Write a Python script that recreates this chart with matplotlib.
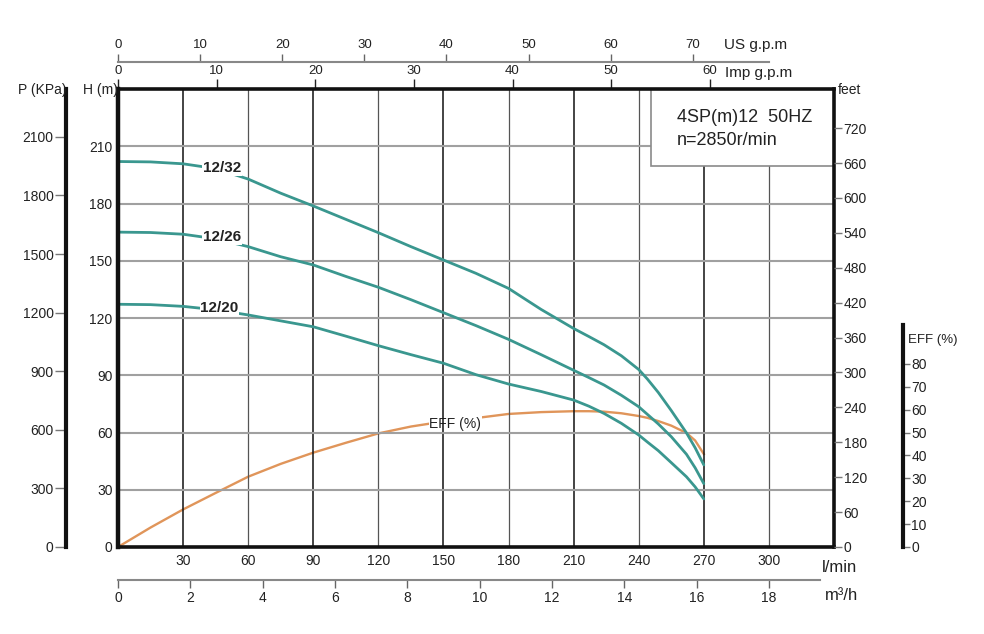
import matplotlib
matplotlib.use("Agg")
import matplotlib.pyplot as plt
from matplotlib.patches import Rectangle

plt.rcParams['font.family'] = ['Liberation Sans', 'DejaVu Sans']

# ---------------- data ----------------
flow = [0, 15, 30, 45, 60, 75, 90, 105, 120, 135, 150, 165, 180, 195, 210,
        217, 224, 232, 240, 244, 249, 255, 262, 266, 270]  # l/min
head_12_32 = [202, 201.8, 200.8, 198.3, 192.8, 185.4, 178.7, 171.7, 164.7, 157.4, 150.4, 143.4, 135.5,
              124.5, 114.5, 110.3, 106.0, 100.2, 93.0, 88.0, 81.0, 71.5, 59.8, 52.0, 43.0]
head_12_26 = [165, 164.8, 163.9, 161.5, 157.4, 152.1, 147.8, 141.8, 136.1, 129.6, 122.8, 116.0, 108.8,
              100.8, 92.6, 88.8, 84.9, 79.5, 73.5, 69.5, 64.5, 57.8, 48.6, 41.5, 33.2]
head_12_20 = [127.2, 127.0, 126.1, 124.3, 121.6, 118.5, 115.4, 110.5, 105.5, 100.8, 96.3, 90.3, 85.4,
              81.5, 77.0, 73.8, 70.0, 64.8, 58.7, 55.0, 50.5, 44.2, 36.8, 31.5, 25.2]
eff = [0, 8.5, 16.4, 23.6, 30.7, 36.3, 41.2, 45.5, 49.6, 52.6, 54.8, 56.3, 58.1, 58.9, 59.3,
       59.3, 59.1, 58.4, 57.2, 56.4, 55.0, 53.0, 49.8, 46.5, 40.6]  # %

curve_names = ['12/32', '12/26', '12/20']
label_pos = [(39, 198.5), (39, 162.5), (38, 125.3)]

q_ticks = list(range(30, 301, 30))
h_ticks = list(range(0, 211, 30))
p_ticks = list(range(0, 2101, 300))
ft_ticks = list(range(0, 721, 60))
eff_ticks = list(range(0, 81, 10))
us_ticks = list(range(0, 71, 10))
imp_ticks = list(range(0, 61, 10))
m3_ticks = list(range(0, 19, 2))

title_lines = "4SP(m)12  50HZ\nn=2850r/min"

TEAL = '#3a978f'
ORANGE = '#e0955a'
GRAY = '#a0a0a0'

# ---------------- figure ----------------
fig = plt.figure(figsize=(9.84, 6.34), dpi=100)
ax = fig.add_axes([118/984, 87/634, 716/984, 458/634])
ax.set_xlim(0, 330)
ax.set_ylim(0, 240)

for k, sp in ax.spines.items():
    sp.set_linewidth(2.6)
    sp.set_color('#111111')
    sp.set_zorder(10)
ax.spines['left'].set_linewidth(3.2)

ax.set_xticks(q_ticks)
ax.set_yticks(h_ticks)
ax.tick_params(axis='x', length=0, pad=5, labelsize=10, colors='#222222')
ax.tick_params(axis='y', length=0, pad=4, labelsize=10, colors='#222222')

# grid
for i, q in enumerate(q_ticks):
    ax.axvline(q, color='#111111' if i % 2 == 0 else '#555555',
               lw=1.1 if i % 2 == 0 else 0.9, zorder=2.6)
for h in h_ticks[1:]:
    ax.axhline(h, color=GRAY, lw=1.5, zorder=2.6)

# curves
for hd, name, (lx, ly) in zip([head_12_32, head_12_26, head_12_20], curve_names, label_pos):
    ax.plot(flow, hd, color=TEAL, lw=2.0, zorder=3, solid_capstyle='round', solid_joinstyle='round')
    ax.text(lx, ly, name, fontsize=11, fontweight='bold', color='#222222',
            ha='left', va='center', zorder=4,
            bbox=dict(facecolor='white', edgecolor='none', pad=0.6))

eff_h = [e * 240 / 200 for e in eff]
ax.plot(flow, eff_h, color=ORANGE, lw=1.7, zorder=2.4, solid_joinstyle='round')
ax.text(143.5, 64.5, 'EFF (%)', fontsize=10, color='#222222', ha='left', va='center',
        zorder=2.5, bbox=dict(facecolor='white', edgecolor='none', pad=0.5))

# info box
ax.add_patch(Rectangle(((651-118)/716, (547-166)/458), 1 - (651-118)/716, 1 - (547-166)/458,
                       transform=ax.transAxes, facecolor='white', edgecolor='#8a8a8a',
                       lw=1.2, zorder=5))
ax.text((677-118)/716, (547-109)/458, title_lines, transform=ax.transAxes, fontsize=13,
        ha='left', va='top', linespacing=1.45, color='#222222', zorder=6)

# P (kPa) axis
axp = ax.twinx()
axp.set_ylim(0, 2345)
for k in ['right', 'top', 'bottom']:
    axp.spines[k].set_visible(False)
axp.spines['left'].set_visible(True)
axp.spines['left'].set_position(('axes', (66-118)/716))
axp.spines['left'].set_linewidth(3)
axp.spines['left'].set_color('#111111')
axp.yaxis.set_ticks_position('left')
axp.set_yticks(p_ticks)
axp.tick_params(axis='y', length=8, width=1, pad=1, labelsize=10, colors='#222222')
axp.tick_params(axis='y', color='#777777')

# feet axis
axf = ax.twinx()
axf.set_ylim(0, 240 * 3.2808)
for k in ['left', 'top', 'bottom', 'right']:
    axf.spines[k].set_visible(False)
axf.set_yticks(ft_ticks)
axf.tick_params(axis='y', length=6, width=1, pad=1, labelsize=10, colors='#222222')
axf.tick_params(axis='y', color='#777777')

# EFF axis
axe = ax.twinx()
axe.set_ylim(0, 200)
for k in ['left', 'top', 'bottom']:
    axe.spines[k].set_visible(False)
axe.spines['right'].set_position(('axes', (903-118)/716))
axe.spines['right'].set_bounds(0, 97)
axe.spines['right'].set_linewidth(3)
axe.spines['right'].set_color('#111111')
axe.set_yticks(eff_ticks)
axe.tick_params(axis='y', length=5, width=1, pad=1, labelsize=10, colors='#222222')
axe.tick_params(axis='y', color='#777777')

# Imp g.p.m (top of frame)
seci = ax.secondary_xaxis('top', functions=(lambda q: q / 4.546, lambda g: g * 4.546))
seci.set_xticks(imp_ticks)
seci.spines['top'].set_visible(False)
seci.tick_params(axis='x', length=7, width=1, pad=1.5, labelsize=9.5, colors='#222222')

# US g.p.m
secu = ax.secondary_xaxis((547-62)/458, functions=(lambda q: q / 3.785, lambda g: g * 3.785))
secu.set_xticks(us_ticks)
secu.spines['top'].set_color('#888888')
secu.spines['top'].set_linewidth(1.5)
secu.spines['top'].set_bounds(0, 79.3)
secu.tick_params(axis='x', length=6, width=1, pad=2, labelsize=9.5, colors='#222222')
secu.tick_params(axis='x', color='#666666')

# m3/h
secm = ax.secondary_xaxis(-(580-547)/458, functions=(lambda q: q / 16.667, lambda m: m * 16.667))
secm.set_xticks(m3_ticks)
secm.spines['bottom'].set_color('#888888')
secm.spines['bottom'].set_linewidth(1.5)
secm.spines['bottom'].set_bounds(0, 19.4)
secm.tick_params(axis='x', length=6, width=1, pad=2, labelsize=10, colors='#222222')
secm.tick_params(axis='x', color='#666666')

# axis titles
def ft(x, y, s, **kw):
    fig.text(x/984, 1 - y/634, s, **kw)

ft(42, 90, 'P (KPa)', fontsize=10, ha='center', va='center', color='#222222')
ft(100, 90, 'H (m)', fontsize=10, ha='center', va='center', color='#222222')
ft(838, 90, 'feet', fontsize=10, ha='left', va='center', color='#222222')
ft(908, 340, 'EFF (%)', fontsize=9.5, ha='left', va='center', color='#222222')
ft(822, 567, 'l/min', fontsize=12, ha='left', va='center', color='#222222')
ft(825, 595, 'm³/h', fontsize=12, ha='left', va='center', color='#222222')
ft(724, 45, 'US g.p.m', fontsize=11, ha='left', va='center', color='#222222')
ft(725, 73, 'Imp g.p.m', fontsize=11, ha='left', va='center', color='#222222')

fig.savefig('out.png', dpi=100)
